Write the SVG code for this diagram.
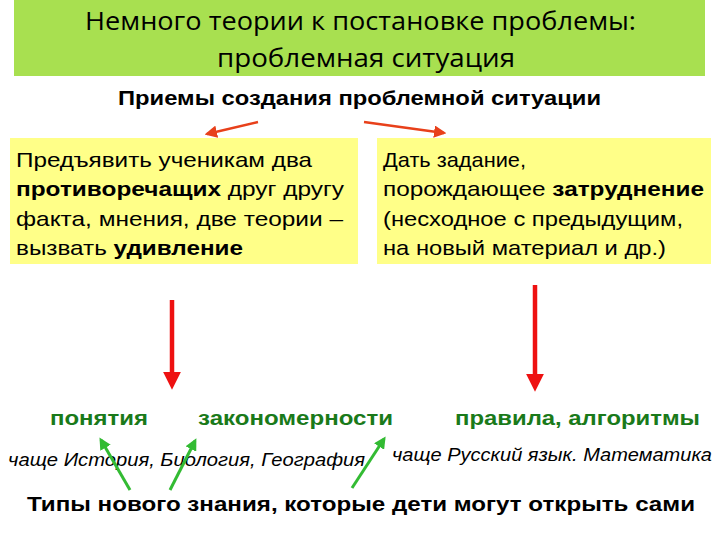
<svg xmlns="http://www.w3.org/2000/svg" width="720" height="540" viewBox="0 0 720 540">
<style>
.t{font-family:"Liberation Sans",Arial,sans-serif}
.box{fill:#ffff88}
.bt{font-size:21px}
.g{fill:#1a7a1a;font-weight:bold;font-size:21px}
.it{font-style:italic;font-size:18px}
</style>
<defs>
<marker id="ao" markerWidth="5" markerHeight="5" refX="4" refY="2.5" orient="auto"><path d="M0,0L5,2.5L0,5z" fill="#e8401a"/></marker>
<marker id="ar" markerWidth="4" markerHeight="4" refX="0.5" refY="2" orient="auto"><path d="M0,0L4,2L0,4z" fill="#ee1111"/></marker>
<marker id="ag" markerWidth="4" markerHeight="4" refX="3" refY="2" orient="auto"><path d="M0,0L4,2L0,4z" fill="#33bb33"/></marker>
</defs>
<rect width="720" height="540" fill="#fff"/>
<g id="title">
<rect x="14" y="0" width="691" height="76" fill="#a8e050"/>
<text x="85" y="30" textLength="551" lengthAdjust="spacingAndGlyphs" font-size="26" font-family="'Open Sans',sans-serif">Немного теории к постановке проблемы:</text>
<text x="217" y="67" textLength="298" lengthAdjust="spacingAndGlyphs" font-size="26" font-family="'Open Sans',sans-serif">проблемная ситуация</text>
</g>
<g id="subtitle"><text class="t" x="118" y="105" textLength="483" lengthAdjust="spacingAndGlyphs" font-size="21" font-weight="bold">Приемы создания проблемной ситуации</text></g>
<g id="box1">
<rect class="box" x="10" y="138" width="348" height="126"/>
<text class="t bt" x="16" y="167" textLength="296" lengthAdjust="spacingAndGlyphs">Предъявить ученикам два</text>
<text class="t bt" x="16" y="196" textLength="328" lengthAdjust="spacingAndGlyphs"><tspan font-weight="bold">противоречащих</tspan> друг другу</text>
<text class="t bt" x="16" y="226" textLength="327" lengthAdjust="spacingAndGlyphs">факта, мнения, две теории –</text>
<text class="t bt" x="16" y="255" textLength="227" lengthAdjust="spacingAndGlyphs">вызвать <tspan font-weight="bold">удивление</tspan></text>
</g>
<g id="box2">
<rect class="box" x="377" y="138" width="334" height="126"/>
<text class="t bt" x="383" y="167" textLength="143" lengthAdjust="spacingAndGlyphs">Дать задание,</text>
<text class="t bt" x="383" y="196" textLength="321" lengthAdjust="spacingAndGlyphs">порождающее <tspan font-weight="bold">затруднение</tspan></text>
<text class="t bt" x="383" y="226" textLength="300" lengthAdjust="spacingAndGlyphs">(несходное с предыдущим,</text>
<text class="t bt" x="383" y="255" textLength="283" lengthAdjust="spacingAndGlyphs">на новый материал и др.)</text>
</g>
<g id="labels">
<text class="t g" x="50" y="425" textLength="98" lengthAdjust="spacingAndGlyphs">понятия</text>
<text class="t g" x="198" y="425" textLength="195" lengthAdjust="spacingAndGlyphs">закономерности</text>
<text class="t g" x="455" y="425" textLength="245" lengthAdjust="spacingAndGlyphs">правила, алгоритмы</text>
<text class="t it" x="8" y="466" textLength="357" lengthAdjust="spacingAndGlyphs">чаще История, Биология, География</text>
<text class="t it" x="392" y="461" textLength="320" lengthAdjust="spacingAndGlyphs">чаще Русский язык. Математика</text>
<text class="t" x="27" y="511" textLength="668" lengthAdjust="spacingAndGlyphs" font-size="21" font-weight="bold">Типы нового знания, которые дети могут открыть сами</text>
</g>
<g id="connectors" fill="none">
<line x1="258" y1="122" x2="207" y2="134" stroke="#e8401a" stroke-width="2.5" marker-end="url(#ao)"/>
<line x1="364" y1="122" x2="444" y2="133" stroke="#e8401a" stroke-width="2.5" marker-end="url(#ao)"/>
<line x1="172" y1="300" x2="172" y2="374" stroke="#ee1111" stroke-width="4.5" marker-end="url(#ar)"/>
<line x1="535" y1="285" x2="535" y2="376" stroke="#ee1111" stroke-width="4.5" marker-end="url(#ar)"/>
<line x1="130" y1="490" x2="101" y2="440" stroke="#33bb33" stroke-width="3" marker-end="url(#ag)"/>
<line x1="170" y1="490" x2="195" y2="441" stroke="#33bb33" stroke-width="3" marker-end="url(#ag)"/>
<line x1="352" y1="488" x2="384" y2="439" stroke="#33bb33" stroke-width="3" marker-end="url(#ag)"/>
</g>
</svg>
